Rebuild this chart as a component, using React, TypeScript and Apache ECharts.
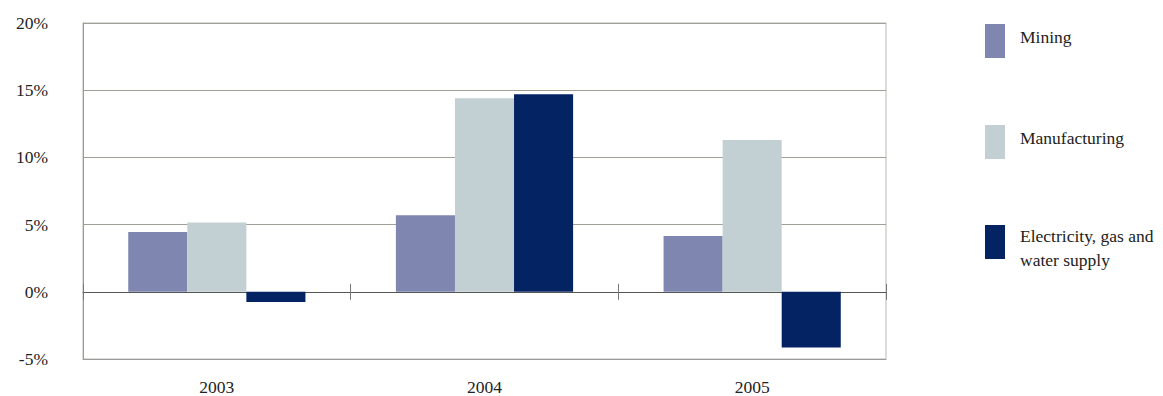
import React, { useEffect, useRef } from "react";
import * as echarts from "echarts";

const categories = ["2003", "2004", "2005"];
const mining = [4.45, 5.7, 4.15];
const manufacturing = [5.15, 14.4, 11.3];
const electricity = [-0.75, 14.7, -4.15];
const seriesNames = ["Mining", "Manufacturing", "Electricity, gas and\nwater supply"];
const colors = ["#7f87b0", "#c3d0d3", "#032363"];

const FONT = "Liberation Serif";

export default function App() {
  const ref = useRef<HTMLDivElement>(null);
  useEffect(() => {
    if (!ref.current) return;
    const chart = echarts.init(ref.current, null, { renderer: "svg" });
    const gridTop = 23;
    const gridH = 336;
    const zeroFromBottom = (gridH * 5) / 25;
    const zeroFromTop = (gridH * 20) / 25;
    const legendBase = {
      orient: "vertical",
      left: 985,
      padding: 0,
      icon: "rect",
      itemWidth: 20,
      itemHeight: 34,
      selectedMode: false,
      formatter: (name: string) =>
        name
          .split("\n")
          .map((l) => `{t|${l}}`)
          .join("\n"),
    };
    const legendText = (pad: number[]) => ({
      fontFamily: FONT,
      fontSize: 17.5,
      color: "#222",
      padding: [0, 0, 0, 10],
      rich: {
        t: { fontFamily: FONT, fontSize: 17.5, color: "#222", lineHeight: 24, padding: pad },
      },
    });
    chart.setOption({
      animation: false,
      backgroundColor: "#ffffff",
      textStyle: { fontFamily: FONT },
      grid: {
        left: 83,
        top: gridTop,
        width: 803,
        height: gridH,
        show: true,
        borderColor: "#b8b8b0",
        borderWidth: 1,
      },
      legend: [
        { ...legendBase, top: 24, data: [seriesNames[0]], textStyle: legendText([0, 0, 8, 0]) },
        { ...legendBase, top: 125, data: [seriesNames[1]], textStyle: legendText([0, 0, 8, 0]) },
        { ...legendBase, top: 215, data: [seriesNames[2]], textStyle: legendText([12, 0, 0, 0]) },
      ],
      xAxis: [
        {
          type: "category",
          data: categories,
          position: "bottom",
          axisLine: { show: true, onZero: false, lineStyle: { color: "#9a9a9a", width: 1 } },
          axisTick: { show: false },
          axisLabel: { color: "#222", fontFamily: FONT, fontSize: 17.5, margin: 19 },
          splitLine: { show: false },
        },
        {
          type: "category",
          data: categories,
          position: "bottom",
          offset: -zeroFromBottom,
          axisLine: { show: true, onZero: false, lineStyle: { color: "#555", width: 1 } },
          axisTick: { show: true, length: 8, lineStyle: { color: "#777" } },
          axisLabel: { show: false },
          splitLine: { show: false },
        },
        {
          type: "category",
          data: categories,
          position: "top",
          offset: -zeroFromTop,
          axisLine: { show: false, onZero: false },
          axisTick: { show: true, length: 8, lineStyle: { color: "#777" } },
          axisLabel: { show: false },
          splitLine: { show: false },
        },
      ],
      yAxis: {
        type: "value",
        min: -5,
        max: 20,
        interval: 5,
        axisLine: { show: true, lineStyle: { color: "#9a9a9a" } },
        axisTick: { show: false },
        axisLabel: {
          formatter: "{value}%",
          color: "#222",
          fontFamily: FONT,
          fontSize: 17.5,
          margin: 35,
        },
        splitLine: { show: true, lineStyle: { color: "#a0a098", width: 1 } },
      },
      series: [
        { name: seriesNames[0], data: mining },
        { name: seriesNames[1], data: manufacturing },
        { name: seriesNames[2], data: electricity },
      ].map((s, i) => ({
        type: "bar",
        name: s.name,
        data: s.data,
        xAxisIndex: 0,
        barGap: "0%",
        barCategoryGap: "33.8%",
        itemStyle: { color: colors[i] },
        emphasis: { disabled: true },
        z: 1,
      })),
    });
    return () => chart.dispose();
  }, []);
  return (
    <div
      ref={ref}
      style={{ position: "fixed", left: 0, top: 0, width: 1163, height: 396, background: "#fff" }}
    />
  );
}
